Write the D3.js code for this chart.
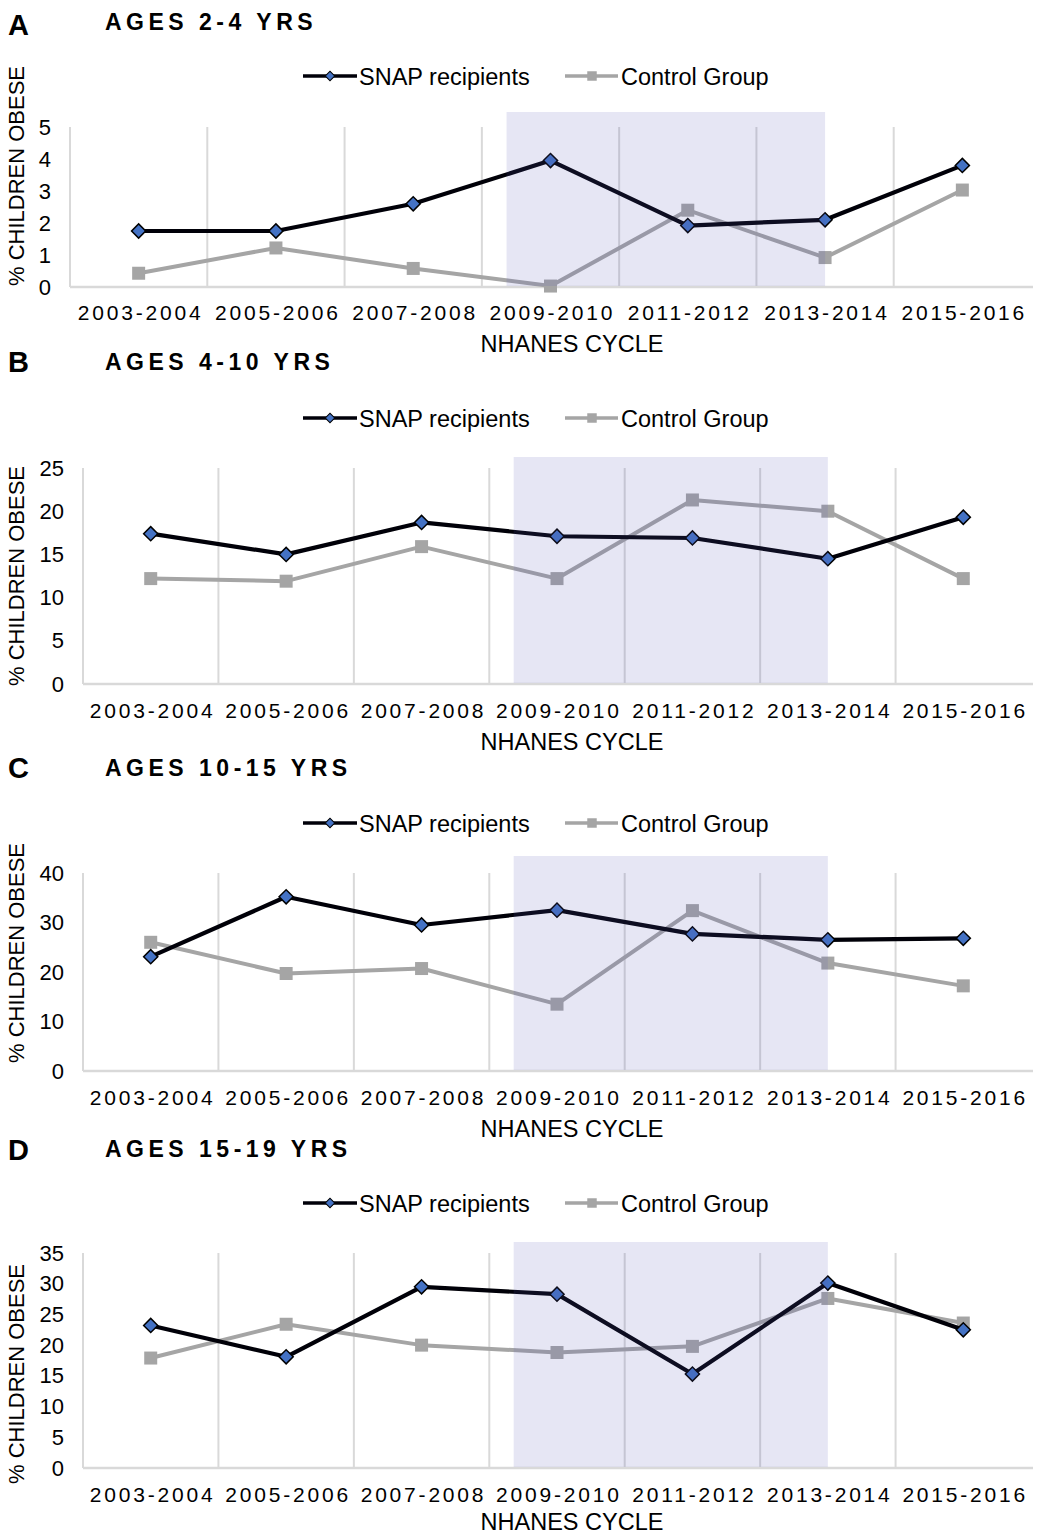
<!DOCTYPE html>
<html>
<head>
<meta charset="utf-8">
<script src="https://cdn.jsdelivr.net/npm/d3@7"></script>
<style>
  html, body { margin: 0; padding: 0; background: #ffffff; }
  svg { display: block; }
  text { font-family: "Liberation Sans", Arial, Helvetica, sans-serif; fill: #000; }
</style>
</head>
<body>
<script>
// ---------------- DATA ----------------
const categories = ["2003-2004", "2005-2006", "2007-2008", "2009-2010", "2011-2012", "2013-2014", "2015-2016"];
const seriesNames = ["SNAP recipients", "Control Group"];
const panelLetters = ["A", "B", "C", "D"];
const panelTitles = ["AGES 2-4 YRS", "AGES 4-10 YRS", "AGES 10-15 YRS", "AGES 15-19 YRS"];
const yAxisTitle = "% CHILDREN OBESE";
const xAxisTitle = "NHANES CYCLE";

const snapA    = [1.75, 1.75, 2.6, 3.95, 1.92, 2.1, 3.8];
const controlA = [0.43, 1.22, 0.58, 0.03, 2.4, 0.92, 3.03];
const snapB    = [17.4, 15.0, 18.7, 17.1, 16.9, 14.5, 19.3];
const controlB = [12.2, 11.9, 15.9, 12.2, 21.3, 20.0, 12.2];
const snapC    = [23.1, 35.2, 29.5, 32.5, 27.7, 26.5, 26.8];
const controlC = [26.0, 19.7, 20.7, 13.5, 32.4, 21.8, 17.2];
const snapD    = [23.2, 18.1, 29.5, 28.3, 15.3, 30.1, 22.5];
const controlD = [17.9, 23.4, 20.0, 18.8, 19.8, 27.6, 23.6];

const yTicksA = [0, 1, 2, 3, 4, 5];
const yTicksB = [0, 5, 10, 15, 20, 25];
const yTicksC = [0, 10, 20, 30, 40];
const yTicksD = [0, 5, 10, 15, 20, 25, 30, 35];

// shaded period, in category-index units (from just after 2007-2008 boundary to 2013-2014)
const shadeFrom = 2.68;
const shadeTo = 5;

// ---------------- LAYOUT ----------------
const W = 1061, H = 1536;
const layouts = [
  { left: 70, right: 1031, y0: 287,  yTop: 127,  shadeTop: 112,  letterY: 35,   titleY: 30,   legendY: 76,   xTickY: 313,  xTitleY: 344,  yLabelY: 176 },
  { left: 83, right: 1031, y0: 684,  yTop: 468,  shadeTop: 457,  letterY: 372,  titleY: 370,  legendY: 418,  xTickY: 711,  xTitleY: 742,  yLabelY: 576 },
  { left: 83, right: 1031, y0: 1071, yTop: 873,  shadeTop: 856,  letterY: 778,  titleY: 776,  legendY: 823,  xTickY: 1098, xTitleY: 1129, yLabelY: 953 },
  { left: 83, right: 1031, y0: 1468, yTop: 1253, shadeTop: 1242, letterY: 1160, titleY: 1157, legendY: 1203, xTickY: 1495, xTitleY: 1522, yLabelY: 1374 }
];

const panels = [
  { snap: snapA, control: controlA, ticks: yTicksA },
  { snap: snapB, control: controlB, ticks: yTicksB },
  { snap: snapC, control: controlC, ticks: yTicksC },
  { snap: snapD, control: controlD, ticks: yTicksD }
];

const COL_SNAP = "#000008";
const COL_DIAMOND = "#4472c4";
const COL_CTRL = "#a5a5a5";
const COL_GRID = "#d9d9d9";

const svg = d3.select("body").append("svg").attr("width", W).attr("height", H);

const diamondPath = d3.symbol(d3.symbolSquare, 100)();
const squarePath = d3.symbol(d3.symbolSquare, 169)();
const diamondSmall = d3.symbol(d3.symbolSquare, 45)();
const squareSmall = d3.symbol(d3.symbolSquare, 90)();

panels.forEach((p, i) => {
  const L = layouts[i];
  const g = svg.append("g");

  const x = d3.scalePoint().domain(categories).range([L.left, L.right]).padding(0.5);
  const step = x.step();
  const xi = d3.scaleLinear().domain([0, categories.length - 1])
    .range([x(categories[0]), x(categories[categories.length - 1])]);
  const y = d3.scaleLinear().domain([0, d3.max(p.ticks)]).range([L.y0, L.yTop]);

  // panel letter & title
  g.append("text").attr("x", 8).attr("y", L.letterY)
    .style("font-size", "29px").style("font-weight", "bold").text(panelLetters[i]);
  g.append("text").attr("x", 105).attr("y", L.titleY)
    .style("font-size", "23px").style("font-weight", "bold").style("letter-spacing", "4.5px")
    .text(panelTitles[i]);

  // legend
  const lg = g.append("g").attr("transform", `translate(0,${L.legendY})`);
  lg.append("line").attr("x1", 303).attr("x2", 357).attr("y1", 0).attr("y2", 0)
    .attr("stroke", COL_SNAP).attr("stroke-width", 3.5);
  lg.append("path").attr("d", diamondSmall).attr("transform", "translate(330,0) rotate(45)")
    .attr("fill", COL_DIAMOND).attr("stroke", "#000").attr("stroke-width", 1);
  lg.append("text").attr("x", 359).attr("y", 8.5).style("font-size", "23.5px").text(seriesNames[0]);
  lg.append("line").attr("x1", 565).attr("x2", 618).attr("y1", 0).attr("y2", 0)
    .attr("stroke", COL_CTRL).attr("stroke-width", 3.5);
  lg.append("path").attr("d", squareSmall).attr("transform", "translate(592,0)")
    .attr("fill", COL_CTRL);
  lg.append("text").attr("x", 621).attr("y", 8.5).style("font-size", "23.5px").text(seriesNames[1]);

  // vertical gridlines at category boundaries
  g.append("g").selectAll("line").data(categories).join("line")
    .attr("x1", d => x(d) - step / 2).attr("x2", d => x(d) - step / 2)
    .attr("y1", L.y0).attr("y2", L.yTop)
    .attr("stroke", COL_GRID).attr("stroke-width", 2);

  // baseline
  g.append("line").attr("x1", L.left).attr("x2", L.right + 2).attr("y1", L.y0).attr("y2", L.y0)
    .attr("stroke", COL_GRID).attr("stroke-width", 2.5);

  // y axis
  const ya = g.append("g").attr("transform", `translate(${L.left},0)`)
    .call(d3.axisLeft(y).tickValues(p.ticks).tickFormat(d3.format("d")).tickSize(0).tickPadding(19));
  ya.select(".domain").remove();
  ya.selectAll("text").style("font-size", "22px")
    .style("font-family", '"Liberation Sans", Arial, sans-serif').attr("fill", "#000");

  // x axis
  const xa = g.append("g").attr("transform", `translate(0,${L.y0})`)
    .call(d3.axisBottom(x).tickSize(0).tickPadding(L.xTickY - L.y0 - 8));
  xa.select(".domain").remove();
  xa.selectAll("text").style("font-size", "21px").style("letter-spacing", "2.8px")
    .style("font-family", '"Liberation Sans", Arial, sans-serif').attr("fill", "#000")
    .attr("dx", "1.4px");

  // axis titles
  g.append("text").attr("transform", `translate(16,${L.yLabelY}) rotate(-90)`)
    .attr("text-anchor", "middle").attr("dominant-baseline", "central")
    .style("font-size", "22px").text(yAxisTitle);
  g.append("text").attr("x", 572).attr("y", L.xTitleY + 8).attr("text-anchor", "middle")
    .style("font-size", "23.5px").text(xAxisTitle);

  // series
  const line = d3.line().x((d, k) => x(categories[k])).y(d => y(d));
  g.append("path").datum(p.control).attr("d", line)
    .attr("fill", "none").attr("stroke", COL_CTRL).attr("stroke-width", 4).attr("stroke-linejoin", "round");
  g.append("g").selectAll("path").data(p.control).join("path")
    .attr("d", squarePath)
    .attr("transform", (d, k) => `translate(${x(categories[k])},${y(d)})`)
    .attr("fill", COL_CTRL);

  g.append("path").datum(p.snap).attr("d", line)
    .attr("fill", "none").attr("stroke", COL_SNAP).attr("stroke-width", 4.2).attr("stroke-linejoin", "round");
  g.append("g").selectAll("path").data(p.snap).join("path")
    .attr("d", diamondPath)
    .attr("transform", (d, k) => `translate(${x(categories[k])},${y(d)}) rotate(45)`)
    .attr("fill", COL_DIAMOND).attr("stroke", "#000").attr("stroke-width", 1.5);

  // shaded period overlay
  g.append("rect")
    .attr("x", xi(shadeFrom)).attr("width", xi(shadeTo) - xi(shadeFrom))
    .attr("y", L.shadeTop).attr("height", L.y0 - 1 - L.shadeTop)
    .attr("fill", "rgb(88,88,182)").attr("fill-opacity", 0.15);
});
</script>
</body>
</html>
